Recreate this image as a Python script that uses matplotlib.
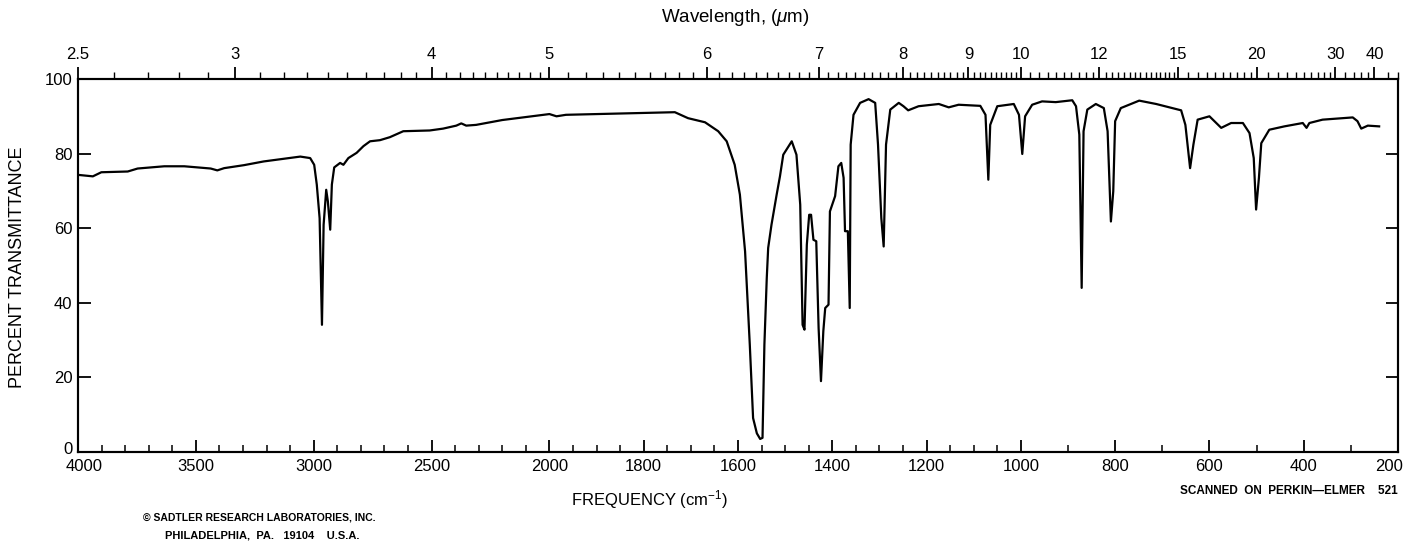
import numpy as np
import matplotlib
matplotlib.use('Agg')
import matplotlib.pyplot as plt
import matplotlib.transforms as mtransforms
from matplotlib.ticker import FixedLocator, FixedFormatter, NullFormatter

plt.rcParams['font.family'] = ['Liberation Sans', 'DejaVu Sans']
plt.rcParams['mathtext.fontset'] = 'custom'
plt.rcParams['mathtext.rm'] = 'Liberation Sans'
plt.rcParams['mathtext.it'] = 'Liberation Sans:italic'

# ---- spectrum data (wavenumber cm-1, percent transmittance) ----
wavenumber = [4000, 3937, 3901, 3789, 3747, 3634, 3549, 3437, 3409, 3380, 3296, 3212,
              3127, 3057, 3015, 2998, 2987, 2975, 2965, 2958, 2947, 2940, 2930, 2923,
              2913, 2888, 2874, 2853, 2818, 2789, 2761, 2719, 2677, 2620, 2508, 2451,
              2395, 2374, 2353, 2311, 2200, 2100, 2040, 2000, 1985, 1965, 1900, 1812,
              1734, 1706, 1670, 1642, 1624, 1607, 1596, 1585, 1575, 1568, 1560, 1553,
              1548, 1544, 1539, 1536, 1529, 1518, 1511, 1504, 1486, 1476, 1468, 1463,
              1459, 1454, 1449, 1445, 1440, 1434, 1429, 1424, 1419, 1415, 1408, 1405,
              1394, 1387, 1381, 1376, 1373, 1367, 1363, 1361, 1355, 1341, 1323, 1309,
              1303, 1296, 1291, 1286, 1277, 1259, 1249, 1239, 1217, 1174, 1153, 1132,
              1086, 1075, 1069, 1065, 1050, 1015, 1004, 997, 991, 976, 955, 926,
              891, 883, 876, 871, 867, 859, 841, 824, 816, 809, 804, 800,
              788, 749, 713, 685, 660, 651, 641, 634, 625, 600, 575, 554,
              529, 515, 506, 501, 495, 490, 473, 441, 402, 394, 388, 360,
              317, 296, 286, 278, 264, 240]
transmittance = [74.3, 73.9, 75.0, 75.2, 76.0, 76.6, 76.6, 76.0, 75.5, 76.1, 76.9, 77.9,
                 78.6, 79.2, 78.8, 77.0, 71.7, 62.7, 34.1, 60.9, 70.3, 67.2, 59.6, 71.7,
                 76.3, 77.5, 77.0, 78.8, 80.2, 82.0, 83.3, 83.6, 84.4, 86.0, 86.2, 86.7,
                 87.5, 88.1, 87.5, 87.7, 89.0, 89.8, 90.3, 90.6, 90.0, 90.4, 90.6, 90.9,
                 91.1, 89.5, 88.4, 86.0, 83.3, 77.0, 69.0, 53.8, 28.8, 9.1, 5.0, 3.5,
                 3.8, 28.8, 46.6, 54.7, 60.9, 69.0, 73.9, 79.7, 83.3, 79.7, 66.3, 34.1,
                 32.8, 55.6, 63.6, 63.6, 56.9, 56.5, 33.2, 19.0, 32.4, 38.6, 39.5, 64.5,
                 68.6, 76.6, 77.5, 73.5, 59.2, 59.2, 38.6, 82.4, 90.4, 93.6, 94.6, 93.6,
                 82.4, 62.7, 55.1, 82.4, 91.8, 93.6, 92.7, 91.6, 92.7, 93.3, 92.4, 93.1,
                 92.8, 90.4, 73.0, 87.7, 92.7, 93.3, 90.4, 79.9, 90.0, 93.1, 94.0, 93.8,
                 94.3, 92.7, 85.1, 44.0, 86.0, 91.8, 93.3, 92.2, 86.0, 61.8, 69.9, 88.7,
                 92.2, 94.2, 93.3, 92.4, 91.6, 87.7, 76.1, 82.4, 89.1, 90.0, 86.9, 88.2,
                 88.2, 85.5, 78.8, 65.0, 73.5, 82.8, 86.4, 87.3, 88.2, 86.9, 88.2, 89.1,
                 89.5, 89.7, 88.7, 86.7, 87.5, 87.3]

# ---- axis ticks ----
freq_major = [4000, 3500, 3000, 2500, 2000, 1800, 1600, 1400, 1200, 1000, 800, 600, 400, 200]
freq_minor = ([f for f in range(3900, 2000, -100) if f % 500] +
              [f for f in range(1950, 1000, -50) if f % 200] +
              [900, 700, 500, 300])
wl_major = [2.5, 3, 4, 5, 6, 7, 8, 9, 10, 12, 15, 20, 30, 40]
wl_minor = (list(np.round(np.arange(2.6, 10.0, 0.1), 2)) +
            list(np.round(np.arange(10.2, 15.0, 0.2), 2)) +
            list(np.arange(15.5, 20.0, 0.5)) +
            list(range(21, 30)) + [32, 34, 36, 38, 45, 50])
wl_minor = [w for w in wl_minor if w not in wl_major]
pct_ticks = [0, 20, 40, 60, 80, 100]


def fwd(v):
    v = np.asarray(v, dtype=float)
    return np.where(v <= 2000, v, 2000 + (v - 2000) * 0.5)


def inv(t):
    t = np.asarray(t, dtype=float)
    return np.where(t <= 2000, t, 2000 + (t - 2000) * 2.0)


W, H = 1404, 542
fig = plt.figure(figsize=(W / 100, H / 100), dpi=100)
ax = fig.add_axes([78 / W, 1 - 452 / H, 1320 / W, 373 / H])

ax.set_xscale('function', functions=(fwd, inv))
ax.plot(wavenumber, transmittance, color='black', lw=1.6, solid_joinstyle='round')
ax.set_xlim(4000, 200)
ax.set_ylim(0, 100)

for s in ax.spines.values():
    s.set_linewidth(1.5)

ax.xaxis.set_major_locator(FixedLocator(freq_major))
ax.xaxis.set_major_formatter(FixedFormatter([str(f) for f in freq_major]))
ax.xaxis.set_minor_locator(FixedLocator(freq_minor))
ax.xaxis.set_minor_formatter(NullFormatter())
ax.tick_params(axis='x', which='major', direction='in', length=9, width=1.3,
               labelsize=12, pad=5, top=False)
ax.tick_params(axis='x', which='minor', direction='in', length=5, width=1.1, top=False)

ax.set_yticks(pct_ticks)
ax.set_yticklabels([str(p) for p in pct_ticks])
ax.tick_params(axis='y', which='major', direction='in', length=9, width=1.3,
               labelsize=12, pad=4, left=True, right=True)

# nudge the end labels inward like the printed chart
xlabels = ax.get_xticklabels()
xlabels[0].set_transform(xlabels[0].get_transform() +
                         mtransforms.ScaledTranslation(6 / 100, 0, fig.dpi_scale_trans))
xlabels[-1].set_transform(xlabels[-1].get_transform() +
                          mtransforms.ScaledTranslation(-9 / 100, 0, fig.dpi_scale_trans))
ylabels = ax.get_yticklabels()
ylabels[0].set_transform(ylabels[0].get_transform() +
                         mtransforms.ScaledTranslation(0, 4 / 100, fig.dpi_scale_trans))

ax2 = ax.twiny()
ax2.set_xscale('function', functions=(fwd, inv))
ax2.set_xlim(4000, 200)
ax2.xaxis.set_major_locator(FixedLocator([10000.0 / w for w in wl_major]))
ax2.xaxis.set_major_formatter(FixedFormatter([('%g' % w) for w in wl_major]))
ax2.xaxis.set_minor_locator(FixedLocator([10000.0 / w for w in wl_minor]))
ax2.xaxis.set_minor_formatter(NullFormatter())
ax2.tick_params(axis='x', which='major', direction='out', length=9, width=1.3,
                labelsize=12, pad=3, top=True, bottom=False)
ax2.tick_params(axis='x', which='minor', direction='out', length=5, width=1.0,
                top=True, bottom=False)
for s in ax2.spines.values():
    s.set_linewidth(1.5)

fig.text(735 / W, 1 - 17 / H, 'Wavelength, ($\\mu$m)', ha='center', va='center', fontsize=13.5)
fig.text(18 / W, 1 - 267 / H, 'PERCENT TRANSMITTANCE', rotation=90, ha='center',
         va='center', fontsize=13)
fig.text(650 / W, 1 - 500 / H, 'FREQUENCY (cm$^{-1}$)', ha='center', va='center', fontsize=12)
fig.text(1398 / W, 1 - 491 / H, 'SCANNED  ON  PERKIN\u2014ELMER    521', ha='right',
         va='center', fontsize=8.5, fontweight='bold')
fig.text(143 / W, 1 - 517 / H, '\u00a9 SADTLER RESEARCH LABORATORIES, INC.', ha='left',
         va='center', fontsize=7.5, fontweight='bold')
fig.text(165 / W, 1 - 536 / H, 'PHILADELPHIA,  PA.   19104    U.S.A.', ha='left',
         va='center', fontsize=8, fontweight='bold')

fig.savefig('out.png', dpi=100)
